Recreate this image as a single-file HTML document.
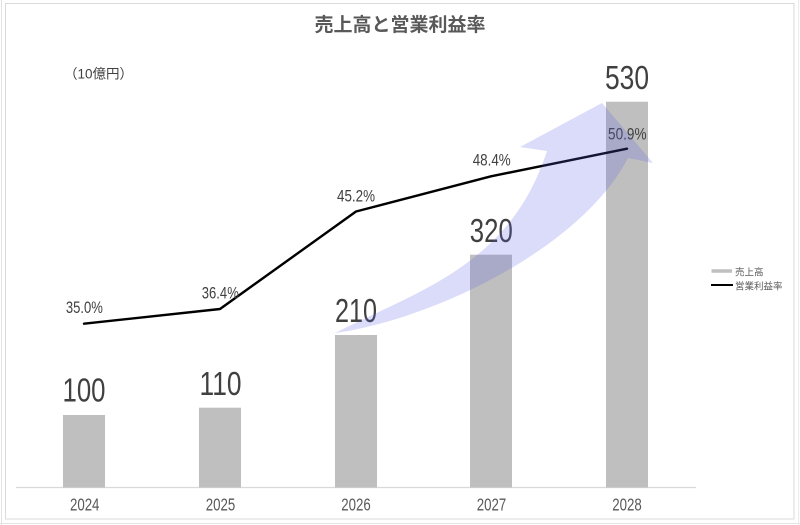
<!DOCTYPE html>
<html>
<head>
<meta charset="utf-8">
<style>
html,body{margin:0;padding:0;background:#fff;}
svg{display:block;}
text{font-family:"Liberation Sans","Noto Sans CJK JP",sans-serif;}
</style>
</head>
<body>
<svg width="800" height="525" viewBox="0 0 800 525" xmlns="http://www.w3.org/2000/svg">
  <rect x="0" y="0" width="800" height="525" fill="#fff"/>
  <!-- frames -->
  <line x1="1.5" y1="0" x2="1.5" y2="525" stroke="#e3e3e3" stroke-width="1"/>
  <line x1="0" y1="523.5" x2="800" y2="523.5" stroke="#e3e3e3" stroke-width="1"/>
  <line x1="798.5" y1="0" x2="798.5" y2="525" stroke="#ececec" stroke-width="1"/>
  <rect x="5.5" y="3.5" width="788.5" height="515.5" fill="#fff" stroke="#d9d9d9" stroke-width="1"/>

  <!-- title -->
  <text x="400" y="31" text-anchor="middle" font-size="19" font-weight="bold" fill="#595959">売上高と営業利益率</text>
  <text x="64" y="78.5" font-size="13.5" fill="#404040">（10億円）</text>

  <!-- axis -->
  <line x1="16" y1="487.5" x2="696" y2="487.5" stroke="#d9d9d9" stroke-width="1.2"/>

  <!-- bars -->
  <g fill="#bfbfbf">
    <rect x="63" y="415" width="42" height="72.5"/>
    <rect x="199" y="407.7" width="42" height="79.8"/>
    <rect x="335" y="335" width="42" height="152.5"/>
    <rect x="470" y="254.7" width="42" height="232.8"/>
    <rect x="606" y="101.7" width="42" height="385.8"/>
  </g>

  <!-- bar value labels -->
  <g fill="#404040" font-size="33" text-anchor="middle">
    <text x="84" y="401.7" textLength="43" lengthAdjust="spacingAndGlyphs">100</text>
    <text x="220.5" y="395" textLength="42" lengthAdjust="spacingAndGlyphs">110</text>
    <text x="356" y="322" textLength="42" lengthAdjust="spacingAndGlyphs">210</text>
    <text x="491.3" y="242" textLength="43" lengthAdjust="spacingAndGlyphs">320</text>
    <text x="627" y="89" textLength="44" lengthAdjust="spacingAndGlyphs">530</text>
  </g>

  <!-- line -->
  <polyline points="84,323.7 220,309 356,211.5 491,176.3 627,148.7" fill="none" stroke="#000" stroke-width="2.4" stroke-linejoin="round" stroke-linecap="round"/>

  <!-- percent labels -->
  <g fill="#404040" font-size="17" text-anchor="middle">
    <text x="84.4" y="313" textLength="37" lengthAdjust="spacingAndGlyphs">35.0%</text>
    <text x="220.3" y="298.3" textLength="37" lengthAdjust="spacingAndGlyphs">36.4%</text>
    <text x="356" y="201.7" textLength="38" lengthAdjust="spacingAndGlyphs">45.2%</text>
    <text x="491.7" y="165.7" textLength="38" lengthAdjust="spacingAndGlyphs">48.4%</text>
    <text x="627.3" y="139.3" textLength="38.5" lengthAdjust="spacingAndGlyphs">50.9%</text>
  </g>

  <!-- curved arrow -->
  <path d="M335,333 C420,290 510,265 547,151 L520,147 L602,103 L653,163 L628,158 C580,250 430,320 335,333 Z" fill="rgb(90,90,230)" fill-opacity="0.22"/>

  <!-- x labels -->
  <g fill="#595959" font-size="17.5" text-anchor="middle">
    <text x="84.7" y="510.7" textLength="29.5" lengthAdjust="spacingAndGlyphs">2024</text>
    <text x="220.5" y="510.7" textLength="29.5" lengthAdjust="spacingAndGlyphs">2025</text>
    <text x="356" y="510.7" textLength="29.5" lengthAdjust="spacingAndGlyphs">2026</text>
    <text x="491.5" y="510.7" textLength="29.5" lengthAdjust="spacingAndGlyphs">2027</text>
    <text x="627" y="510.7" textLength="29.5" lengthAdjust="spacingAndGlyphs">2028</text>
  </g>

  <!-- legend -->
  <line x1="711.5" y1="271" x2="732" y2="271" stroke="#bfbfbf" stroke-width="3.5"/>
  <text x="735" y="275.5" font-size="9.5" fill="#595959">売上高</text>
  <line x1="711" y1="285" x2="733" y2="285" stroke="#000" stroke-width="2"/>
  <text x="735" y="289.5" font-size="9.5" fill="#595959">営業利益率</text>
</svg>
</body>
</html>
